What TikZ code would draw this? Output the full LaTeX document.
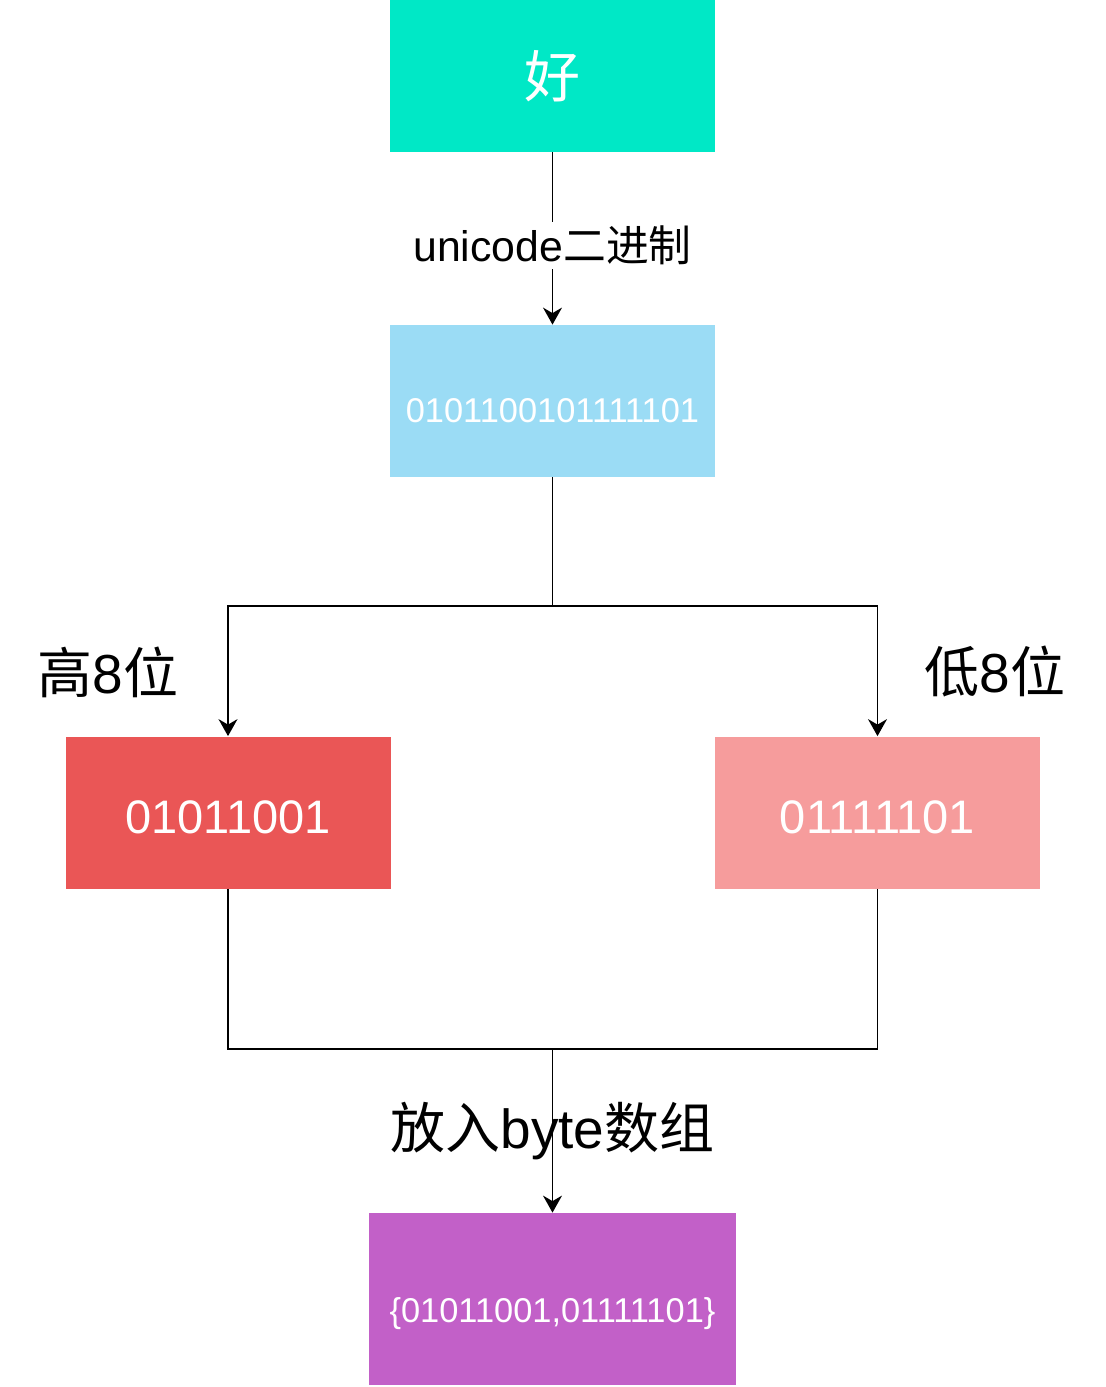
\documentclass[tikz,border=0pt]{standalone}
\usepackage{fontspec}
\setmainfont{Liberation Sans}
\newfontfamily\cjk{Noto Sans CJK SC}
\usepackage{xcolor}
\definecolor{teal}{RGB}{0, 232, 198}
\definecolor{skyblue}{RGB}{155, 220, 245}
\definecolor{highred}{RGB}{234, 86, 86}
\definecolor{lowpink}{RGB}{246, 156, 156}
\definecolor{purple}{RGB}{194, 96, 200}
\usetikzlibrary{arrows.meta,positioning}

\begin{document}
\begin{tikzpicture}[
  x=0.5pt, y=-0.5pt,
  block/.style={draw=none, text=white, minimum width=162.5pt, minimum height=76pt, inner sep=0pt, align=center},
  lbl/.style={font=\fontsize{27.5pt}{30pt}\selectfont, text=black, inner sep=1pt},
  arrow/.style={-{Stealth[length=8.5pt,width=9.5pt]}, line width=0.8pt, color=black},
  line/.style={line width=0.8pt, color=black}
]
\useasboundingbox (0,0) rectangle (1106,1387);

\node[block, fill=teal, font=\fontsize{28pt}{30pt}\selectfont\cjk] (hao) at (552.5,76) {好};
\node[block, fill=skyblue, text height=21.3pt, text depth=0pt, font=\fontsize{17.2pt}{20pt}\selectfont] (bits) at (552.5,401) {0101100101111101};
\node[block, fill=highred, text height=20.8pt, text depth=0pt, font=\fontsize{23.5pt}{26pt}\selectfont] (high) at (228,812.5) {01011001};
\node[block, fill=lowpink, text height=20.8pt, text depth=0pt, font=\fontsize{23.5pt}{26pt}\selectfont] (low) at (877.5,812.5) {01111101};
\node[block, fill=purple, minimum width=183.5pt, minimum height=86pt, text height=23.3pt, text depth=0pt, font=\fontsize{17.2pt}{19pt}\selectfont] (arr) at (552.5,1299) {\{01011001,01111101\}};

\node[lbl] (highlbl) at (108,672) {{\cjk 高}8{\cjk 位}};
\node[lbl] (lowlbl) at (995,672) {{\cjk 低}8{\cjk 位}};

\coordinate (split) at (552.5,606);
\coordinate (join) at (552.5,1049);

\draw[arrow] (hao) -- node[pos=0.54, fill=white, inner sep=2pt, font=\fontsize{21.4pt}{23pt}\selectfont] {unicode{\cjk 二进制}} (bits);
\draw[line] (bits) -- (split);
\draw[arrow] (split) -| (high);
\draw[arrow] (split) -| (low);
\draw[line] (high) |- (join);
\draw[line] (low) |- (join);
\draw[arrow] (join) -- node[lbl, pos=0.5] {{\cjk 放入}byte{\cjk 数组}} (arr);
\end{tikzpicture}
\end{document}
